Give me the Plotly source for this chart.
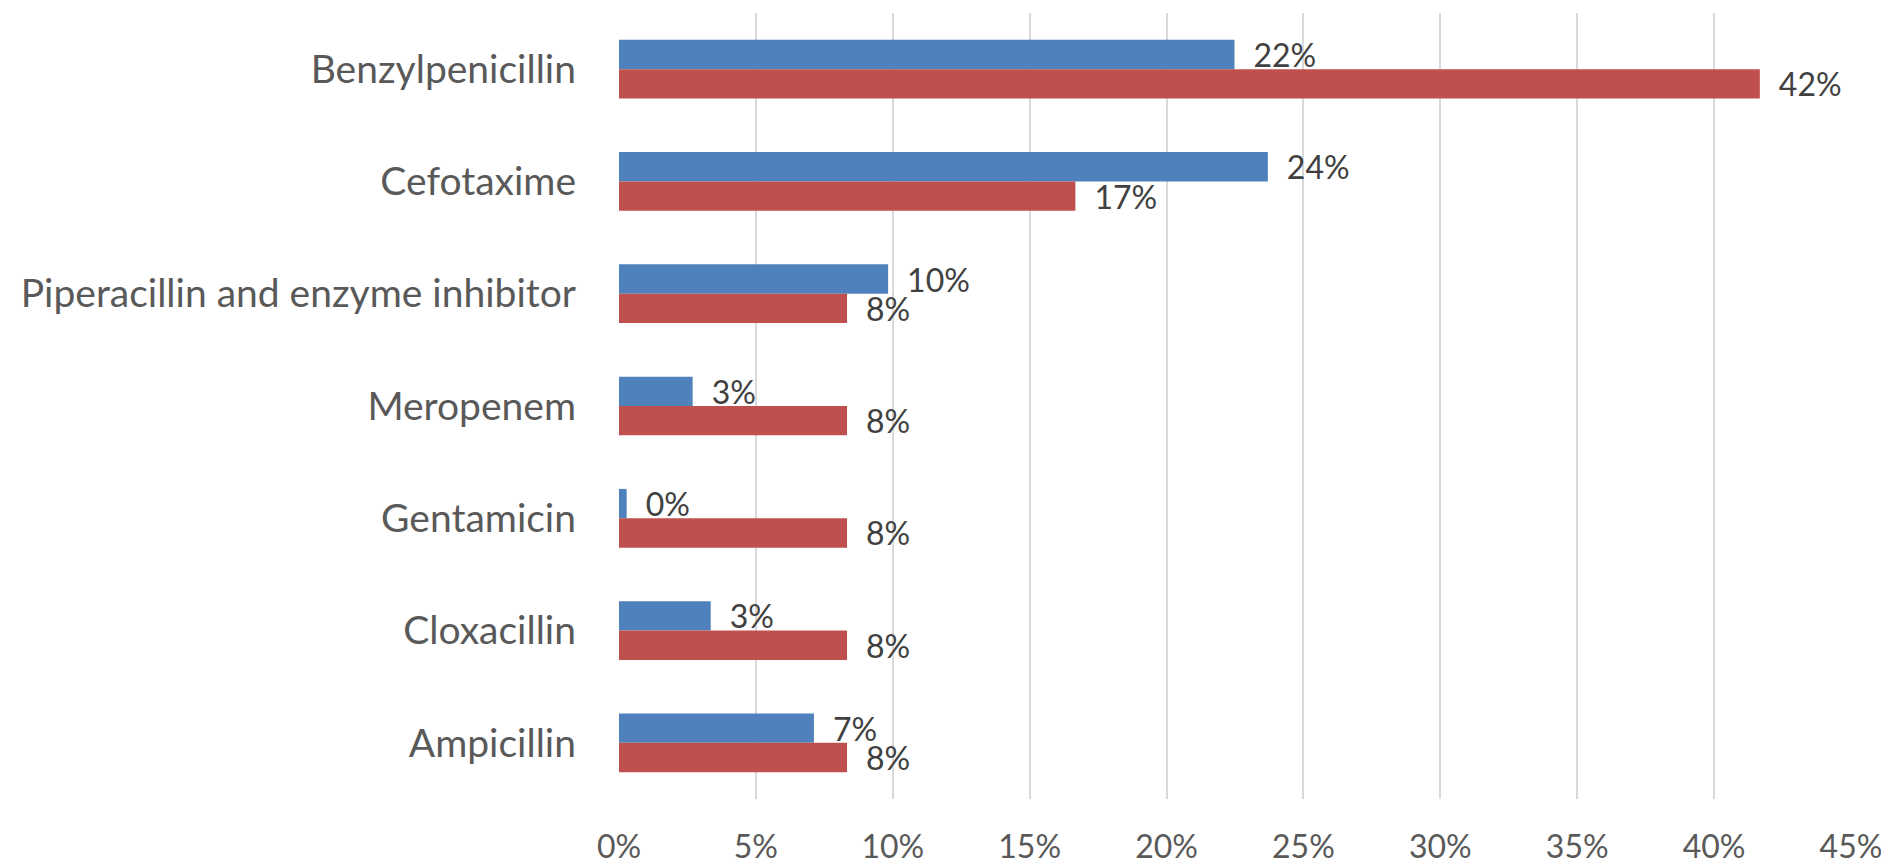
import plotly.graph_objects as go

categories = ["Benzylpenicillin", "Cefotaxime", "Piperacillin and enzyme inhibitor",
              "Meropenem", "Gentamicin", "Cloxacillin", "Ampicillin"]
series_blue = [0.2248, 0.2370, 0.0983, 0.0269, 0.0028, 0.0335, 0.0712]
series_red = [0.4167, 0.1667, 0.0833, 0.0833, 0.0833, 0.0833, 0.0833]
x_ticks = [0, 0.05, 0.10, 0.15, 0.20, 0.25, 0.30, 0.35, 0.40, 0.45]

FONT = "Lato"
fig = go.Figure()
for vals, color in [(series_blue, "#4F81BD"), (series_red, "#C0504D")]:
    fig.add_trace(go.Bar(
        y=categories, x=vals, orientation="h",
        marker=dict(color=color, line=dict(width=0)),
        texttemplate="\u2002%{x:.0%}", textposition="outside",
        textfont=dict(family=FONT, size=32, color="#404040"),
        constraintext="none", cliponaxis=False, hoverinfo="skip",
    ))

# the page body adds an 8px offset, so the figure is sized to end at the window edge
fig.update_layout(
    width=1881, height=855,
    margin=dict(l=611, r=38, t=5, b=64, autoexpand=False),
    barmode="group", bargap=0.477, bargroupgap=0,
    showlegend=False,
    plot_bgcolor="white", paper_bgcolor="white",
    font=dict(family=FONT),
)
fig.update_xaxes(
    range=[0, 0.45], tickvals=x_ticks, tickformat=".0%",
    showgrid=True, gridcolor="#D9D9D9", gridwidth=2,
    zeroline=False, showline=False, automargin=False,
    tickfont=dict(family=FONT, size=32, color="#595959"),
    ticklabelstandoff=26,
)
fig.update_yaxes(
    autorange="reversed", showgrid=False, showline=False, zeroline=False,
    automargin=False,
    tickfont=dict(family=FONT, size=39, color="#595959"),
    ticklabelstandoff=42,
)
fig.write_html("out.html")
